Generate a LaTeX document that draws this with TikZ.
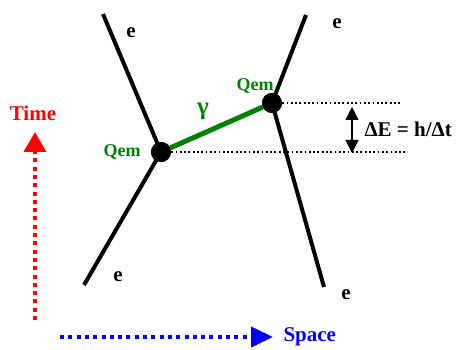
\documentclass[tikz,border=0pt]{standalone}
\usepackage{fontspec}
\setmainfont{Liberation Serif}
\usepackage{xcolor}
\usetikzlibrary{arrows.meta,positioning}
\definecolor{photongreen}{RGB}{0,128,0}

\begin{document}
\begin{tikzpicture}[x=1pt, y=-1pt, >=Stealth,
    vertex/.style={circle, fill=black, inner sep=0pt, minimum size=20pt},
    fermion/.style={line width=4pt, black},
    photon/.style={line width=5pt, photongreen},
    level/.style={line width=1.8pt, dash pattern=on 1.8pt off 2.5pt},
    lbl/.style={font=\bfseries\fontsize{21}{24}\selectfont},
    qlbl/.style={font=\bfseries\fontsize{18}{20}\selectfont, photongreen},
    axis/.style={line width=4pt, dash pattern=on 4pt off 4.3pt}]
    \useasboundingbox (0,0) rectangle (458,350);

    % Vertices
    \node[vertex] (va) at (161,152) {};
    \node[vertex] (vb) at (272,103) {};

    % Electron line ends
    \coordinate (a1) at (103,14);
    \coordinate (a2) at (84,285);
    \coordinate (b1) at (306,15);
    \coordinate (b2) at (324,287);

    % Electron lines
    \draw[fermion] (a1) -- (va.center) -- (a2);
    \draw[fermion] (b1) -- (vb.center) -- (b2);

    % Photon
    \draw[photon] (va) -- (vb);
    \node[vertex] at (va) {};
    \node[vertex] at (vb) {};

    % Labels
    \node[lbl] (ea) at (131,33) {e};
    \node[lbl] (eb) at (337,24) {e};
    \node[lbl] (ec) at (118,277) {e};
    \node[lbl] (ed) at (346,295) {e};
    \node[lbl, photongreen, font=\bfseries\fontsize{25}{28}\selectfont] (gam) at (203,111) {γ};
    \node[qlbl] (qa) at (122,152) {Qem};
    \node[qlbl] (qb) at (255,86) {Qem};

    % Energy levels
    \coordinate (ua) at (405,152);
    \coordinate (ub) at (400,103);
    \draw[level] (va) -- (ua);
    \draw[level] (vb) -- (ub);
    \coordinate (da) at (352,107);
    \coordinate (db) at (352,153);
    \draw[line width=1.2pt, {Triangle[width=13pt,length=13pt]}-{Triangle[width=13pt,length=13pt]}] (da) -- (db);
    \node[lbl, anchor=west] (de) at (361,129) {ΔE = h/Δt};

    % Axes
    \coordinate (t0) at (35,320);
    \coordinate (t1) at (35,132);
    \draw[axis, red, -{Triangle[width=22pt,length=20pt]}] (t0) -- (t1);
    \node[lbl, red] (time) at (33,113) {Time};
    \coordinate (s0) at (60,337);
    \coordinate (s1) at (273,337);
    \draw[axis, blue, -{Triangle[width=20pt,length=22pt]}] (s0) -- (s1);
    \node[lbl, blue, anchor=west] (space) at (280,337) {Space};
\end{tikzpicture}
\end{document}
